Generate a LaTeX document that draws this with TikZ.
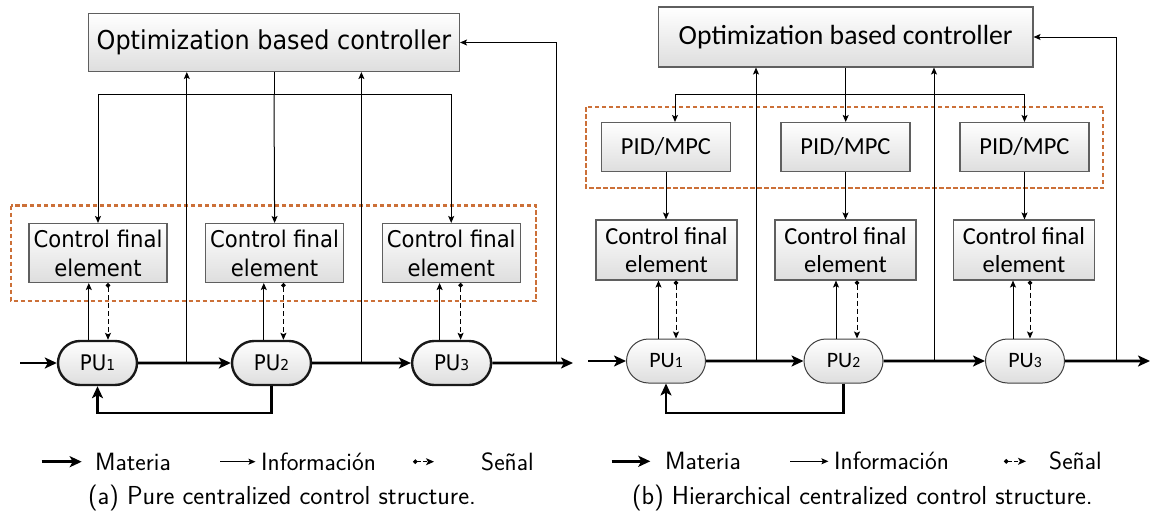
\documentclass[tikz,border=0pt]{standalone}
\usepackage{fontspec}
\newfontfamily\tahomaish[FakeStretch=0.92]{DejaVu Sans}
\newfontfamily\calib{Carlito}
\usetikzlibrary{arrows.meta,shapes.misc,calc}
\definecolor{boxline}{RGB}{95,95,95}
\definecolor{groupline}{RGB}{204,112,56}
\tikzset{
  blk/.style={draw=boxline, line width=1.1pt, top color=white, bottom color=black!13,
    inner sep=0pt, align=center},
  pubase/.style={rounded rectangle, top color=white, bottom color=black!13,
    minimum width=79pt, minimum height=44pt, inner sep=0pt},
  pul/.style={pubase, draw=black!90, line width=2.4pt},
  pur/.style={pubase, draw=black!75, line width=1pt},
  mat/.style={line width=2.6pt, -{Stealth[length=12pt,width=11pt,inset=3pt]}},
  info/.style={line width=1pt, -{Stealth[length=7pt,width=6pt,inset=1.5pt]}},
  infoline/.style={line width=1pt},
  sig/.style={line width=1pt, dash pattern=on 5pt off 3pt,
    {Circle[length=4.5pt]}-{Stealth[length=7pt,width=6pt,inset=1.5pt]}},
  sigkey/.style={line width=1pt, dash pattern=on 3.5pt off 2.5pt,
    {Circle[length=4.5pt]}-{Stealth[length=8pt,width=7pt,inset=2pt]}},
  group/.style={draw=groupline, line width=2.6pt, dash pattern=on 4.5pt off 2.5pt},
  lgd/.style={font=\sffamily\fontsize{25}{29}\selectfont, anchor=west, inner sep=0pt},
  captxt/.style={font=\sffamily\fontsize{26}{30}\selectfont, anchor=west, inner sep=0pt},
  tfontA/.style={font=\tahomaish\fontsize{26}{30}\selectfont},
  bfontA/.style={font=\tahomaish\fontsize{23}{29}\selectfont},
  pfontA/.style={font=\tahomaish\fontsize{21.5}{25}\selectfont},
  tfontB/.style={font=\calib\fontsize{27.7}{32}\selectfont},
  bfontB/.style={font=\calib\fontsize{24.5}{28}\selectfont},
  pfontB/.style={font=\calib\fontsize{22}{26}\selectfont},
}
\newcommand{\puA}[1]{PU{\fontsize{15}{17}\selectfont #1}}
\newcommand{\puB}[1]{PU{\fontsize{15.5}{17}\selectfont #1}}
\begin{document}
\begin{tikzpicture}[x=1pt,y=-1pt]
\useasboundingbox (0,0) rectangle (1151,514);

% ---------------- (a) pure centralized structure ----------------
\draw[group] (11,205.5) rectangle (536,301);

\node[blk, tfontA, minimum width=371pt, minimum height=58pt] (optL) at (274,42.5)
  {Optimization based controller};
\node[blk, bfontA, minimum width=138pt, minimum height=59pt] (cL1) at (98,253) {Control final\\element};
\node[blk, bfontA, minimum width=138pt, minimum height=59pt] (cL2) at (274.6,253) {Control final\\element};
\node[blk, bfontA, minimum width=138pt, minimum height=59pt] (cL3) at (451.2,253) {Control final\\element};

\node[pul, pfontA] (pL1) at (97.5,363) {\puA{1}};
\node[pul, pfontA] (pL2) at (271.5,363) {\puA{2}};
\node[pul, pfontA] (pL3) at (451.6,363) {\puA{3}};

% material flow
\coordinate (inL) at (20,363);
\coordinate (outL) at (573,363);
\coordinate (fbL) at (0,413);
\draw[mat] (inL) -- (pL1);
\draw[mat] (pL1) -- (pL2);
\draw[mat] (pL2) -- (pL3);
\draw[mat] (pL3) -- (outL);
\draw[mat] (pL2.south) -- (pL2.south |- fbL) -- (pL1.south |- fbL) -- (pL1.south);

% measurements to the controller
\coordinate (jL1) at (186.8,363);
\coordinate (jL2) at (361.4,363);
\coordinate (jL3) at (556,363);
\draw[info] (jL1) -- (jL1 |- optL.south);
\draw[info] (jL2) -- (jL2 |- optL.south);
\draw[info] (jL3) -- (jL3 |- optL.east) -- (optL.east);

% controller outputs
\coordinate (dL) at (0,94);
\draw[infoline] (optL.south) -- (optL.south |- dL);
\draw[infoline] (cL1.north |- dL) -- (cL3.north |- dL);
\draw[info] (cL1.north |- dL) -- (cL1.north);
\draw[info] (optL.south |- dL) -- (cL2.north);
\draw[info] (cL3.north |- dL) -- (cL3.north);

% unit <-> final element
\draw[info] ([xshift=-8.7pt]pL1.north) -- ([xshift=-8.7pt]pL1.north |- cL1.south);
\draw[sig] ([xshift=10.5pt]pL1.north |- cL1.south) -- ([xshift=10.5pt]pL1.north);
\draw[info] ([xshift=-7.7pt]pL2.north) -- ([xshift=-7.7pt]pL2.north |- cL2.south);
\draw[sig] ([xshift=11.9pt]pL2.north |- cL2.south) -- ([xshift=11.9pt]pL2.north);
\draw[info] ([xshift=-12pt]pL3.north) -- ([xshift=-12pt]pL3.north |- cL3.south);
\draw[sig] ([xshift=9pt]pL3.north |- cL3.south) -- ([xshift=9pt]pL3.north);

% legend
\coordinate (lmA) at (41.7,461.7);  \coordinate (lmB) at (81.7,461.7);
\draw[mat] (lmA) -- (lmB);
\node[lgd] (tmL) at (95,461.7) {Materia};
\coordinate (liA) at (220,461.7);  \coordinate (liB) at (255.5,461.7);
\draw[info] (liA) -- (liB);
\node[lgd] (tiL) at (261,461.7) {Información};
\coordinate (lsA) at (413,461.7);  \coordinate (lsB) at (434,461.7);
\draw[sigkey] (lsA) -- (lsB);
\node[lgd] (tsL) at (481,461.7) {Señal};

\node[captxt] (capL) at (88,498) {(a) Pure centralized control structure.};

% ---------------- (b) hierarchical centralized structure ----------------
\draw[group] (586,107) rectangle (1103,188);

\node[blk, tfontB, minimum width=374.6pt, minimum height=60pt] (optR) at (845.7,37)
  {Optimization based controller};
\node[blk, bfontB, minimum width=129pt, minimum height=49pt] (mR1) at (666,147) {PID/MPC};
\node[blk, bfontB, minimum width=129pt, minimum height=49pt] (mR2) at (845.5,147) {PID/MPC};
\node[blk, bfontB, minimum width=129pt, minimum height=49pt] (mR3) at (1024.5,147) {PID/MPC};
\node[blk, bfontB, minimum width=141pt, minimum height=60pt] (cR1) at (666.5,250) {Control final\\element};
\node[blk, bfontB, minimum width=141pt, minimum height=60pt] (cR2) at (845.5,250) {Control final\\element};
\node[blk, bfontB, minimum width=141pt, minimum height=60pt] (cR3) at (1024,250) {Control final\\element};

\node[pur, pfontB] (pR1) at (666,361) {\puB{1}};
\node[pur, pfontB] (pR2) at (843.5,361) {\puB{2}};
\node[pur, pfontB] (pR3) at (1025,361) {\puB{3}};

% material flow
\coordinate (inR) at (588,361);
\coordinate (outR) at (1150,361);
\coordinate (fbR) at (0,413);
\draw[mat] (inR) -- (pR1);
\draw[mat] (pR1) -- (pR2);
\draw[mat] (pR2) -- (pR3);
\draw[mat] (pR3) -- (outR);
\draw[mat] (pR2.south) -- (pR2.south |- fbR) -- (pR1.south |- fbR) -- (pR1.south);

% measurements to the controller
\coordinate (jR1) at (756,361);
\coordinate (jR2) at (934,361);
\coordinate (jR3) at (1116,361);
\draw[info] (jR1) -- (jR1 |- optR.south);
\draw[info] (jR2) -- (jR2 |- optR.south);
\draw[info] (jR3) -- (jR3 |- optR.east) -- (optR.east);

% set points to the local controllers
\coordinate (dR) at (0,94.3);
\coordinate (dR1) at (675,94.3);
\coordinate (dR3) at (1024.5,94.3);
\draw[infoline] (optR.south) -- (optR.south |- dR);
\draw[infoline] (dR1) -- (dR3);
\draw[info] (dR1) -- (dR1 |- mR1.north);
\draw[info] (optR.south |- dR) -- (optR.south |- mR2.north);
\draw[info] (dR3) -- (mR3.north);

% local controllers to final elements
\draw[info] (mR1.south) -- (mR1.south |- cR1.north);
\draw[info] (mR2.south) -- (mR2.south |- cR2.north);
\draw[info] (mR3.south) -- (mR3.south |- cR3.north);

% unit <-> final element
\draw[info] ([xshift=-7.5pt]pR1.north) -- ([xshift=-7.5pt]pR1.north |- cR1.south);
\draw[sig] ([xshift=10pt]pR1.north |- cR1.south) -- ([xshift=10pt]pR1.north);
\draw[info] ([xshift=-7.5pt]pR2.north) -- ([xshift=-7.5pt]pR2.north |- cR2.south);
\draw[sig] ([xshift=13.5pt]pR2.north |- cR2.south) -- ([xshift=13.5pt]pR2.north);
\draw[info] ([xshift=-12pt]pR3.north) -- ([xshift=-12pt]pR3.north |- cR3.south);
\draw[sig] ([xshift=5pt]pR3.north |- cR3.south) -- ([xshift=5pt]pR3.north);

% legend
\coordinate (rmA) at (611.7,461.3);  \coordinate (rmB) at (650.3,461.3);
\draw[mat] (rmA) -- (rmB);
\node[lgd] (tmR) at (665,461.3) {Materia};
\coordinate (riA) at (790,461.3);  \coordinate (riB) at (828.4,461.3);
\draw[info] (riA) -- (riB);
\node[lgd] (tiR) at (834,461.3) {Información};
\coordinate (rsA) at (1004,461.3);  \coordinate (rsB) at (1026,461.3);
\draw[sigkey] (rsA) -- (rsB);
\node[lgd] (tsR) at (1049,461.3) {Señal};

\node[captxt] (capR) at (632,498) {(b) Hierarchical centralized control structure.};
\end{tikzpicture}
\end{document}
